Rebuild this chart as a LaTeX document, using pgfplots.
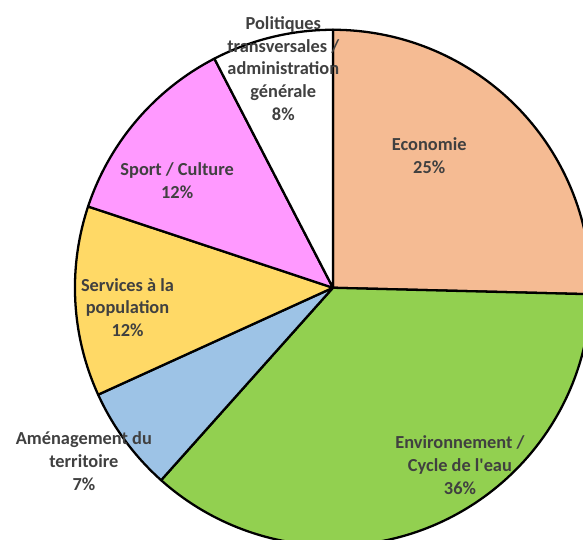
\documentclass[border=0pt]{standalone}
\usepackage{fontspec}
\setmainfont{Carlito}[Ligatures=TeXOff]
\usepackage{pgfplots}
\usepackage{pgfplotstable}
\pgfplotsset{compat=1.18}

\definecolor{ceco}{RGB}{245,187,147}
\definecolor{cenv}{RGB}{146,208,80}
\definecolor{camen}{RGB}{157,195,230}
\definecolor{cserv}{RGB}{255,217,102}
\definecolor{csport}{RGB}{255,153,255}
\definecolor{cpol}{RGB}{255,255,255}
\definecolor{labeltext}{RGB}{64,64,64}

% part de chaque poste (en %), dans le sens horaire depuis midi
\pgfplotstableread{
share colour
25.4 ceco
36.2 cenv
6.6  camen
11.9 cserv
12.3 csport
7.6  cpol
}\piedata

\begin{document}

% angles de debut et de fin de chaque part
\def\cum{90}
\pgfplotsforeachungrouped \i in {0,...,5}{%
  \pgfplotstablegetelem{\i}{share}\of\piedata
  \pgfmathsetmacro\nextang{\cum-3.6*\pgfplotsretval}%
  \expandafter\xdef\csname sa\i\endcsname{\cum}%
  \expandafter\xdef\csname ea\i\endcsname{\nextang}%
  \pgfplotstablegetelem{\i}{colour}\of\piedata
  \expandafter\xdef\csname col\i\endcsname{\pgfplotsretval}%
  \global\let\cum\nextang
}

\begin{tikzpicture}
  \begin{axis}[
      scale only axis,
      width=583pt, height=544pt,
      xmin=-331, xmax=252,
      ymin=-254, ymax=290,
      hide axis,
      clip=true,
    ]
    \pgfplotsinvokeforeach{0,...,5}{%
      \edef\wedge{\noexpand\filldraw[fill=\csname col#1\endcsname, draw=black,
          line width=2.3pt, line join=round]
        (axis cs:0,0) -- ++(\csname sa#1\endcsname:260pt)
        arc[start angle=\csname sa#1\endcsname, end angle=\csname ea#1\endcsname,
            radius=260pt] -- cycle;}%
      \wedge
    }
    \tikzset{lbl/.style={align=center, text=labeltext,
        font=\fontsize{18.5}{23}\selectfont\bfseries}}
    \node[lbl] at (axis cs:97,133) {Economie\\25\%};
    \node[lbl] at (axis cs:128,-179) {Environnement /\\Cycle de l'eau\\36\%};
    \node[lbl] at (axis cs:-251,-175) {Aménagement du\\territoire\\7\%};
    \node[lbl] at (axis cs:-207,-20) {Services à la\\population\\12\%};
    \node[lbl] at (axis cs:-157,108) {Sport / Culture\\12\%};
    \node[lbl] at (axis cs:-50,221) {Politiques\\transversales /\\administration\\générale\\8\%};
  \end{axis}
  \path (current axis.south west) rectangle (current axis.north east);
\end{tikzpicture}

\end{document}
